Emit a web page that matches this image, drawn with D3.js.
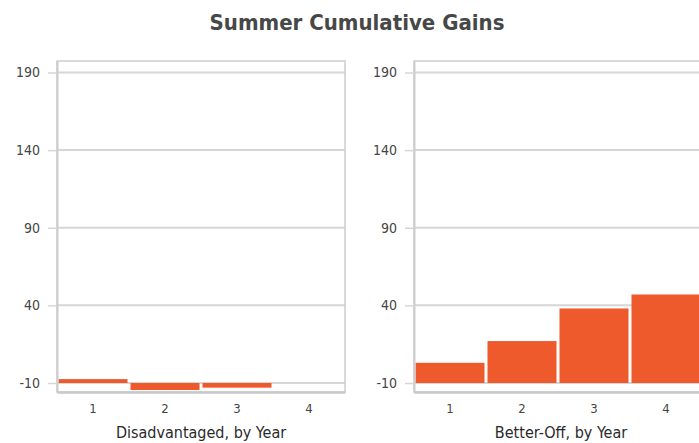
<!DOCTYPE html>
<html>
<head>
<meta charset="utf-8">
<script src="https://cdn.jsdelivr.net/npm/d3@7"></script>
<style>
  html, body { margin: 0; padding: 0; background: #fff; }
  svg { display: block; }
  text { font-family: "DejaVu Sans Condensed", "DejaVu Sans", sans-serif; }
</style>
</head>
<body>
<svg id="chart" width="699" height="443"></svg>
<script>
// Years on the x axis
const years = [1, 2, 3, 4];
// Cumulative summer gains per group (null = no bar)
const disadvantaged = [-7.5, -14.5, -13, null];
const betterOff = [3, 17, 38, 47];
// Y axis tick values
const yTicks = [-10, 40, 90, 140, 190];
const panelTitles = ["Disadvantaged, by Year", "Better-Off, by Year"];
const chartTitle = "Summer Cumulative Gains";

const svg = d3.select("#chart");
const barColor = "#ee5a2b";
const gridColor = "#d6d6d6";
const frameColor = "#cdcdcd";
const font = "DejaVu Sans Condensed, DejaVu Sans, sans-serif";

const plotTop = 61, plotBottom = 392;
const panelW = 288;
const panelX = [57, 414];
const baseline = -10;

const y = d3.scaleLinear().domain([-15.8, 197.4]).range([plotBottom, plotTop]);
const x = d3.scaleBand().domain(years).range([0, panelW]).padding(0);

// plain hyphen for negatives
const fmt = d => String(d);

svg.append("text")
  .attr("x", 357).attr("y", 30)
  .attr("text-anchor", "middle")
  .attr("font-size", 22).attr("font-weight", "bold")
  .attr("fill", "#474747")
  .text(chartTitle);

[disadvantaged, betterOff].forEach((vals, i) => {
  const g = svg.append("g").attr("transform", `translate(${panelX[i]},0)`);

  // gridlines
  g.selectAll("line.grid").data(yTicks).join("line")
    .attr("class", "grid")
    .attr("x1", 0).attr("x2", panelW)
    .attr("y1", d => y(d)).attr("y2", d => y(d))
    .attr("stroke", gridColor).attr("stroke-width", 2);

  // frame
  g.append("rect")
    .attr("x", 0).attr("y", plotTop)
    .attr("width", panelW).attr("height", plotBottom - plotTop)
    .attr("fill", "none").attr("stroke", frameColor).attr("stroke-width", 1.5);

  // bars measured from the -10 baseline
  const data = years.map((yr, k) => ({ yr, v: vals[k] })).filter(d => d.v !== null);
  g.selectAll("rect.bar").data(data).join("rect")
    .attr("class", "bar")
    .attr("x", d => x(d.yr) + 1.5)
    .attr("width", x.bandwidth() - 3)
    .attr("y", d => Math.min(y(d.v), y(baseline)))
    .attr("height", d => Math.abs(y(d.v) - y(baseline)))
    .attr("fill", barColor);

  // y axis
  const yAxis = g.append("g")
    .call(d3.axisLeft(y).tickValues(yTicks).tickSizeInner(9).tickSizeOuter(0)
      .tickPadding(8).tickFormat(fmt));
  yAxis.select(".domain").attr("stroke", frameColor).attr("stroke-width", 2);
  yAxis.selectAll(".tick line").attr("stroke", gridColor).attr("stroke-width", 1.5);
  yAxis.selectAll(".tick text")
    .attr("font-family", font)
    .attr("font-size", 14).attr("fill", "#444");

  // x axis
  const xAxis = g.append("g").attr("transform", `translate(0,${plotBottom})`)
    .call(d3.axisBottom(x).tickSize(0).tickPadding(12));
  xAxis.select(".domain").attr("stroke", "#c8c8c8").attr("stroke-width", 2.5);
  xAxis.selectAll(".tick text")
    .attr("font-family", font)
    .attr("font-size", 13).attr("fill", "#444");

  g.append("text")
    .attr("x", panelW / 2 + (i === 0 ? 0 : 3)).attr("y", 438)
    .attr("text-anchor", "middle")
    .attr("font-size", 16).attr("fill", "#2a2a2a")
    .text(panelTitles[i]);
});
</script>
</body>
</html>
